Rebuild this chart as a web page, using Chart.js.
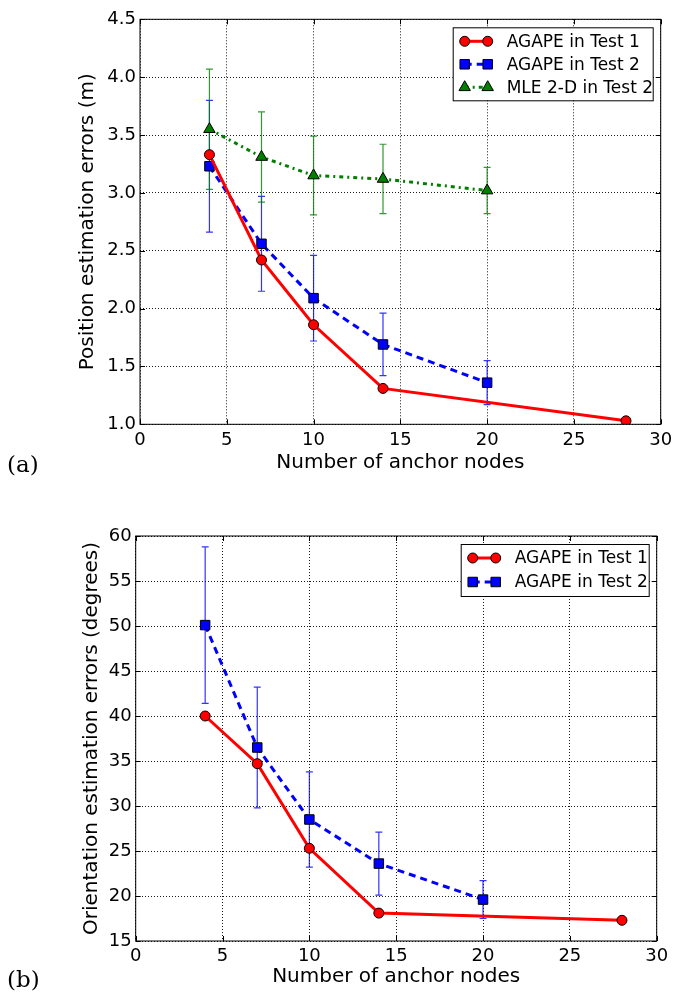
<!DOCTYPE html>
<html>
<head>
<meta charset="utf-8">
<script src="https://cdn.jsdelivr.net/npm/chart.js@4/dist/chart.umd.min.js"></script>
<style>
  body { margin: 0; background: #fff; }
  .wrap { position: relative; width: 678px; height: 1000px; }
  canvas { position: absolute; left: 0; }
  .tag { position: absolute; left: 7px; font: 23px "DejaVu Serif", serif; color: #000; }
</style>
</head>
<body>
<div class="wrap">
  <canvas id="posChart" width="678" height="500" style="top:0"></canvas>
  <canvas id="oriChart" width="678" height="500" style="top:500px"></canvas>
  <div class="tag" style="top:451px">(a)</div>
  <div class="tag" style="top:966px">(b)</div>
</div>
<script>
// anchor counts used in each test
const anchorsTest1 = [4, 7, 10, 14, 28];
const anchorsTest2 = [4, 7, 10, 14, 20];

// position errors (m)
const posTest1 = [3.33, 2.42, 1.86, 1.31, 1.03];
const posTest2 = [3.23, 2.56, 2.09, 1.69, 1.36];
const posTest2Err = [0.57, 0.41, 0.37, 0.27, 0.19];
const posMle = [3.55, 3.31, 3.15, 3.12, 3.02];
const posMleErr = [0.52, 0.39, 0.34, 0.30, 0.20];

// orientation errors (degrees)
const oriTest1 = [40.0, 34.7, 25.3, 18.1, 17.3];
const oriTest2 = [50.1, 36.5, 28.5, 23.6, 19.6];
const oriTest2Err = [8.7, 6.7, 5.3, 3.5, 2.1];

const labelTest1 = "AGAPE in Test 1";
const labelTest2 = "AGAPE in Test 2";
const labelMle = "MLE 2-D in Test 2";

const FONT = "'DejaVu Sans', sans-serif";
const RED = "#ff0000";
const BLUE = "#0000ff";
const GREEN = "#007f00";

const toPoints = (xs, ys) => xs.map((x, i) => ({ x, y: ys[i] }));

function series(label, xs, ys, color, style, radius, dash, errs) {
  return {
    label,
    data: toPoints(xs, ys),
    borderColor: color,
    backgroundColor: color,
    borderWidth: 3,
    borderDash: dash,
    pointStyle: style,
    pointRadius: radius,
    pointBorderColor: "#000",
    pointBackgroundColor: color,
    pointBorderWidth: 1,
    tension: 0,
    errors: errs || null,
  };
}

// error bars, frame, inward ticks and the boxed legend
const extras = {
  id: "extras",
  beforeDatasetsDraw(chart) {
    const ctx = chart.ctx;
    const xs = chart.scales.x, ys = chart.scales.y;
    chart.data.datasets.forEach((ds) => {
      if (!ds.errors) return;
      ctx.save();
      ctx.strokeStyle = ds.borderColor;
      ctx.globalAlpha = 0.8;
      ctx.lineWidth = 1.2;
      ds.data.forEach((p, i) => {
        const px = xs.getPixelForValue(p.x);
        const top = ys.getPixelForValue(p.y + ds.errors[i]);
        const bot = ys.getPixelForValue(p.y - ds.errors[i]);
        ctx.beginPath();
        ctx.moveTo(px, top); ctx.lineTo(px, bot);
        ctx.moveTo(px - 3.5, top); ctx.lineTo(px + 3.5, top);
        ctx.moveTo(px - 3.5, bot); ctx.lineTo(px + 3.5, bot);
        ctx.stroke();
      });
      ctx.restore();
    });
  },
  afterDraw(chart, args, opts) {
    const ctx = chart.ctx;
    const a = chart.chartArea;
    const xs = chart.scales.x, ys = chart.scales.y;
    ctx.save();
    ctx.strokeStyle = "#000";
    ctx.lineWidth = 1;
    ctx.strokeRect(a.left, a.top, a.right - a.left, a.bottom - a.top);
    ctx.beginPath();
    xs.ticks.forEach((t) => {
      const px = Math.round(xs.getPixelForValue(t.value)) + 0.5;
      ctx.moveTo(px, a.bottom); ctx.lineTo(px, a.bottom - 5);
      ctx.moveTo(px, a.top); ctx.lineTo(px, a.top + 5);
    });
    ys.ticks.forEach((t) => {
      const py = Math.round(ys.getPixelForValue(t.value)) + 0.5;
      ctx.moveTo(a.left, py); ctx.lineTo(a.left + 5, py);
      ctx.moveTo(a.right, py); ctx.lineTo(a.right - 5, py);
    });
    ctx.stroke();

    // legend box
    const sets = chart.data.datasets;
    const rowH = opts.rowH;
    const w = opts.width;
    const h = sets.length * rowH + 4;
    const bx = a.right - 8 - w, by = a.top + 8;
    ctx.fillStyle = "#fff";
    ctx.fillRect(bx, by, w, h);
    ctx.strokeStyle = "#000";
    ctx.lineWidth = 1;
    ctx.strokeRect(bx + 0.5, by + 0.5, w, h);
    ctx.font = "17px " + FONT;
    ctx.textBaseline = "middle";
    sets.forEach((ds, i) => {
      const y = by + 14 + i * rowH;
      const x0 = bx + 12, x1 = bx + 35;
      ctx.save();
      ctx.strokeStyle = ds.borderColor;
      ctx.lineWidth = 3;
      ctx.setLineDash(ds.borderDash || []);
      ctx.beginPath();
      ctx.moveTo(x0, y); ctx.lineTo(x1, y);
      ctx.stroke();
      ctx.restore();
      const pt = {
        pointStyle: ds.pointStyle, radius: ds.pointRadius, rotation: 0,
        borderWidth: 1,
      };
      [x0, x1].forEach((px) => {
        ctx.save();
        ctx.fillStyle = ds.pointBackgroundColor;
        ctx.strokeStyle = "#000";
        ctx.lineWidth = 1;
        Chart.helpers.drawPoint(ctx, pt, px, y);
        ctx.restore();
      });
      ctx.fillStyle = "#000";
      ctx.fillText(ds.label, bx + 54, y + 1);
    });
    ctx.restore();
  },
};

function build(id, datasets, yRange, yFmt, yTitle, pad, legend) {
  const gridLines = { color: "rgba(0,0,0,0.9)", drawTicks: false, lineWidth: 1 };
  const dotted = { display: false, dash: [1, 2] };
  return new Chart(document.getElementById(id), {
    type: "line",
    data: { datasets },
    options: {
      responsive: false,
      animation: false,
      layout: { padding: pad },
      plugins: {
        legend: { display: false },
        tooltip: { enabled: false },
        extras: legend,
      },
      scales: {
        x: {
          type: "linear",
          min: 0, max: 30,
          afterFit: (s) => { s.height = pad.xh; },
          ticks: { stepSize: 5, color: "#000", padding: 5, font: { family: FONT, size: 18 } },
          grid: gridLines,
          border: dotted,
          title: {
            display: true, text: "Number of anchor nodes", color: "#000",
            padding: 0, font: { family: FONT, size: 20 },
          },
        },
        y: {
          min: yRange[0], max: yRange[1],
          afterFit: (s) => { s.width = pad.yw; },
          ticks: {
            stepSize: yRange[2], color: "#000", padding: 4,
            font: { family: FONT, size: 18 },
            callback: yFmt,
          },
          grid: gridLines,
          border: dotted,
          title: {
            display: true, text: yTitle, color: "#000",
            padding: 0, font: { family: FONT, size: 20 },
          },
        },
      },
    },
    plugins: [extras],
  });
}

build(
  "posChart",
  [
    series(labelTest1, anchorsTest1, posTest1, RED, "circle", 5, []),
    series(labelTest2, anchorsTest2, posTest2, BLUE, "rect", 6.7, [7, 5], posTest2Err),
    series(labelMle, anchorsTest2, posMle, GREEN, "triangle", 6.6, [4, 4, 2, 4], posMleErr),
  ],
  [1.0, 4.5, 0.5],
  (v) => v.toFixed(1),
  "Position estimation errors (m)",
  { left: 76, right: 17.3, top: 19.3, bottom: 25.7, yw: 64, xh: 50 },
  { width: 200, rowH: 23 }
);

build(
  "oriChart",
  [
    series(labelTest1, anchorsTest1, oriTest1, RED, "circle", 5, []),
    series(labelTest2, anchorsTest2, oriTest2, BLUE, "rect", 6.7, [7, 5], oriTest2Err),
  ],
  [15, 60, 5],
  (v) => String(v),
  "Orientation estimation errors (degrees)",
  { left: 80, right: 21.3, top: 36, bottom: 11, yw: 55.7, xh: 48 },
  { width: 188, rowH: 24 }
);
</script>
</body>
</html>
